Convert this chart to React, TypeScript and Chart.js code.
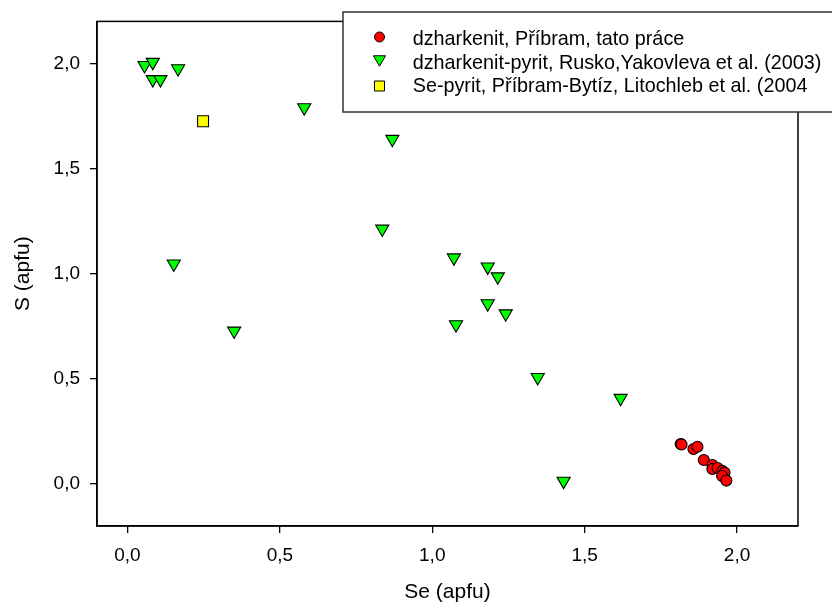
import { useEffect, useRef } from "react";
import { Chart, registerables } from "chart.js";

Chart.register(...registerables);

const seriesNames = [
  "dzharkenit, Příbram, tato práce",
  "dzharkenit-pyrit, Rusko,Yakovleva et al. (2003)",
  "Se-pyrit, Příbram-Bytíz, Litochleb et al. (2004",
];

// dzharkenit, Příbram (red circles)
const dzhSe = [1.815, 1.818, 1.857, 1.87, 1.891, 1.919, 1.919, 1.936, 1.952, 1.959, 1.951, 1.965];
const dzhS = [0.19, 0.188, 0.166, 0.177, 0.114, 0.09, 0.071, 0.076, 0.062, 0.054, 0.038, 0.016];

// dzharkenit-pyrit (green triangles)
const pyrSe = [0.056, 0.083, 0.083, 0.108, 0.166, 0.152, 0.35, 0.58, 0.869, 0.836, 1.071, 1.078, 1.182, 1.215, 1.182, 1.241, 1.346, 1.431, 1.618];
const pyrS = [1.991, 2.006, 1.924, 1.924, 1.976, 1.047, 0.728, 1.79, 1.64, 1.213, 1.076, 0.758, 1.033, 0.986, 0.858, 0.81, 0.507, 0.014, 0.408];

// Se-pyrit (yellow square)
const sePyrSe = [0.248];
const sePyrS = [1.725];

const xTicks = [0, 0.5, 1, 1.5, 2];
const yTicks = [0, 0.5, 1, 1.5, 2];
const xTitle = "Se (apfu)";
const yTitle = "S (apfu)";

const FONT = "'Liberation Sans', Arial, sans-serif";

const toPts = (xs: number[], ys: number[]) => xs.map((x, i) => ({ x, y: ys[i] }));
const fmt = (v: number) => v.toFixed(1).replace(".", ",");

const legendPlugin = {
  id: "boxLegend",
  afterDraw(chart: any) {
    const ctx = chart.ctx as CanvasRenderingContext2D;
    const { left, top, right, bottom } = chart.chartArea;
    ctx.save();
    ctx.strokeStyle = "#000";
    ctx.lineWidth = 1.5;
    ctx.strokeRect(left, top, right - left, bottom - top);

    const lx = 343, ly = 12, lw = 520, lh = 100;
    ctx.fillStyle = "#fff";
    ctx.fillRect(lx, ly, lw, lh);
    ctx.strokeStyle = "#333";
    ctx.lineWidth = 1.5;
    ctx.strokeRect(lx, ly, lw, lh);

    const mx = 379.5;
    const rows = [37, 61, 86];
    const baselines = [45, 69, 92];
    ctx.lineWidth = 1;
    ctx.strokeStyle = "#000";
    // circle
    ctx.beginPath();
    ctx.arc(mx, rows[0], 5, 0, Math.PI * 2);
    ctx.fillStyle = "#ff0000";
    ctx.fill();
    ctx.stroke();
    // triangle
    const r = 7;
    ctx.beginPath();
    ctx.moveTo(mx, rows[1] + r * 0.75);
    ctx.lineTo(mx - r * 0.866, rows[1] - r * 0.75);
    ctx.lineTo(mx + r * 0.866, rows[1] - r * 0.75);
    ctx.closePath();
    ctx.fillStyle = "#00ff00";
    ctx.fill();
    ctx.stroke();
    // square
    ctx.beginPath();
    ctx.rect(mx - 5, rows[2] - 5, 10, 10);
    ctx.fillStyle = "#ffff00";
    ctx.fill();
    ctx.stroke();

    ctx.fillStyle = "#000";
    ctx.font = `19.8px ${FONT}`;
    ctx.textBaseline = "alphabetic";
    ctx.textAlign = "left";
    seriesNames.forEach((n, i) => ctx.fillText(n, 412.7, baselines[i]));
    ctx.restore();
  },
};

export default function App() {
  const ref = useRef<HTMLCanvasElement>(null);
  useEffect(() => {
    if (!ref.current) return;
    const tickFont = { family: FONT, size: 19 };
    const titleFont = { family: FONT, size: 21 };
    const chart = new Chart(ref.current, {
      type: "scatter",
      data: {
        datasets: [
          {
            label: seriesNames[1],
            data: toPts(pyrSe, pyrS),
            pointStyle: "triangle",
            rotation: 180,
            pointRadius: 7.6,
            backgroundColor: "#00ff00",
            borderColor: "#000",
            borderWidth: 1.1,
          },
          {
            label: seriesNames[2],
            data: toPts(sePyrSe, sePyrS),
            pointStyle: "rect",
            pointRadius: 7.7,
            backgroundColor: "#ffff00",
            borderColor: "#000",
            borderWidth: 1.1,
          },
          {
            label: seriesNames[0],
            data: toPts(dzhSe, dzhS),
            pointStyle: "circle",
            pointRadius: 5.5,
            backgroundColor: "#ff0000",
            borderColor: "#000",
            borderWidth: 1.1,
          },
        ],
      },
      options: {
        responsive: false,
        animation: false,
        layout: { padding: { top: 21, right: 34, left: 0, bottom: 0 } },
        plugins: {
          legend: { display: false },
          tooltip: { enabled: false },
          title: { display: false },
        },
        scales: {
          x: {
            type: "linear",
            min: -0.1,
            max: 2.2,
            afterBuildTicks: (s: any) => {
              s.ticks = xTicks.map((v) => ({ value: v }));
            },
            afterFit: (s: any) => {
              s.height = 84;
            },
            ticks: {
              callback: (v: any) => fmt(Number(v)),
              font: tickFont,
              color: "#000",
              padding: 11,
              autoSkip: false,
              maxRotation: 0,
            },
            grid: {
              drawOnChartArea: false,
              drawTicks: true,
              tickLength: 7,
              color: "#000",
              lineWidth: 1.3,
            },
            border: { display: true, color: "#000", width: 1.5 },
            title: {
              display: true,
              text: xTitle,
              font: titleFont,
              color: "#000",
              padding: { top: 0, bottom: 5 },
            },
          },
          y: {
            type: "linear",
            min: -0.2,
            max: 2.2,
            afterBuildTicks: (s: any) => {
              s.ticks = yTicks.map((v) => ({ value: v }));
            },
            afterFit: (s: any) => {
              s.width = 97;
            },
            ticks: {
              callback: (v: any) => fmt(Number(v)),
              font: tickFont,
              color: "#000",
              padding: 10,
              autoSkip: false,
            },
            grid: {
              drawOnChartArea: false,
              drawTicks: true,
              tickLength: 7,
              color: "#000",
              lineWidth: 1.3,
            },
            border: { display: true, color: "#000", width: 1.5 },
            title: {
              display: true,
              text: yTitle,
              font: titleFont,
              color: "#000",
              padding: { top: 11, bottom: 0 },
            },
          },
        },
      },
      plugins: [legendPlugin],
    });
    return () => chart.destroy();
  }, []);
  return (
    <div style={{ position: "fixed", left: 0, top: 0, width: 832, height: 610, background: "#fff" }}>
      <canvas ref={ref} width={832} height={610} />
    </div>
  );
}
